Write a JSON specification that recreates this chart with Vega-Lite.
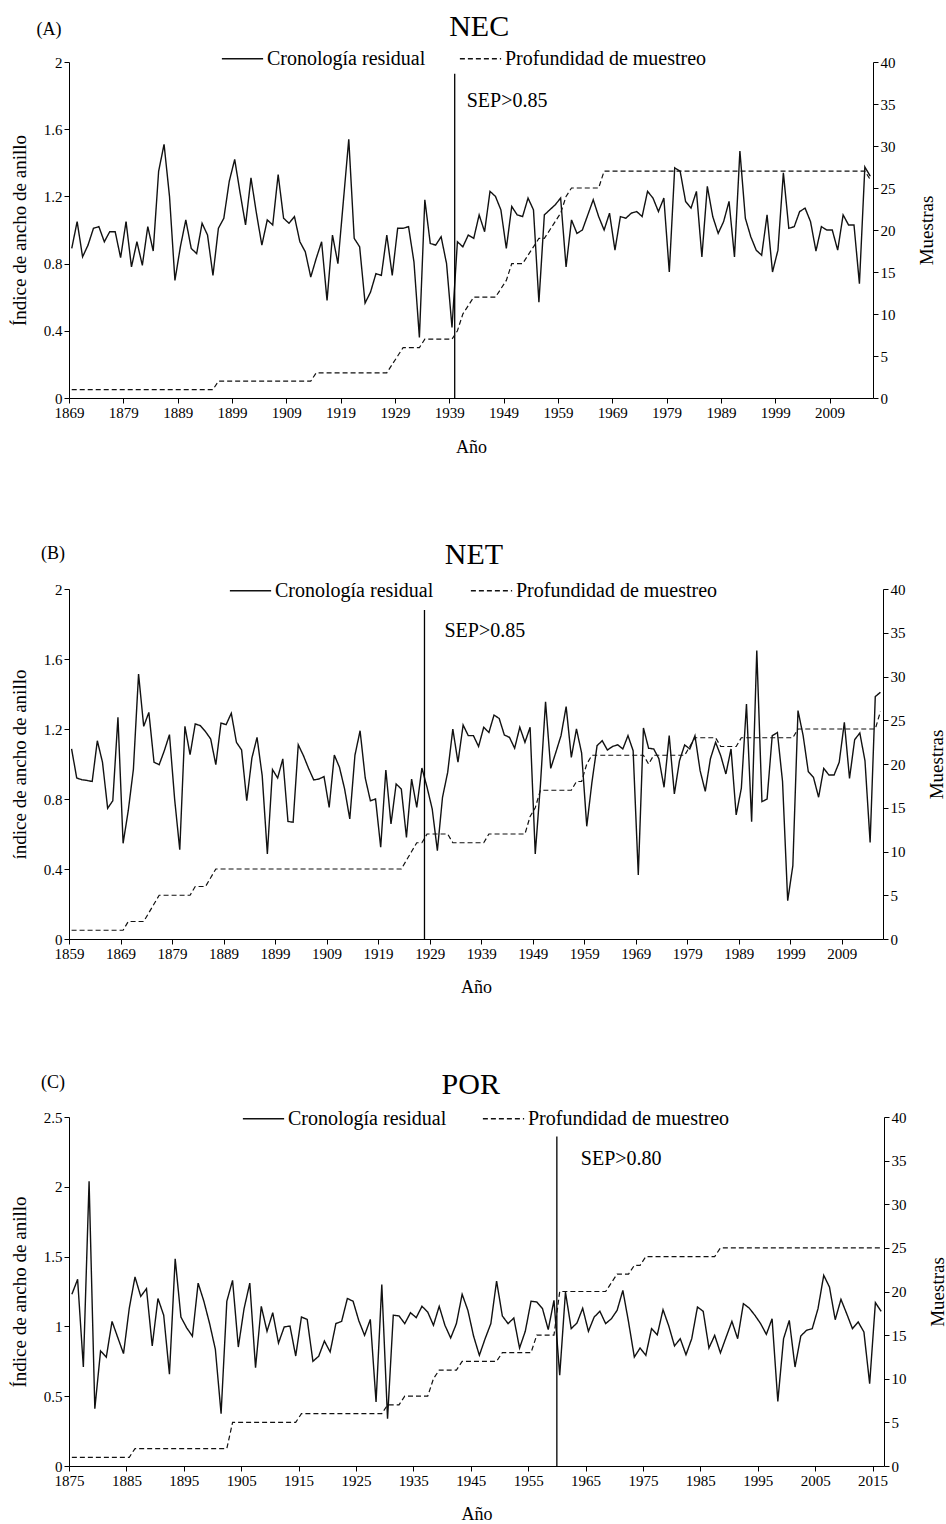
{
"$schema":"https://vega.github.io/schema/vega-lite/v6.json",
"background":"white",
"padding":{"left":10,"top":11,"right":5,"bottom":0},
"config":{
 "view":{"stroke":null},
 "font":"Liberation Serif",
 "axis":{"grid":false,"domainColor":"#000","tickColor":"#000","labelColor":"#000","titleColor":"#000","labelFont":"Liberation Serif","titleFont":"Liberation Serif","titleFontWeight":"normal","labelFontSize":15,"titleFontSize":18,"tickSize":5,"labelPadding":2,"labelFlush":false,"labelOverlap":false},
 "legend":{"labelLimit":0}
},
"datasets":{
"nec":[
{"year":1869,"ind":0.89,"n":1},{"year":1870,"ind":1.05,"n":1},{"year":1871,"ind":0.84,"n":1},{"year":1872,"ind":0.91,"n":1},{"year":1873,"ind":1.01,"n":1},{"year":1874,"ind":1.02,"n":1},{"year":1875,"ind":0.93,"n":1},{"year":1876,"ind":0.99,"n":1},{"year":1877,"ind":0.99,"n":1},{"year":1878,"ind":0.835,"n":1},
{"year":1879,"ind":1.05,"n":1},{"year":1880,"ind":0.78,"n":1},{"year":1881,"ind":0.93,"n":1},{"year":1882,"ind":0.79,"n":1},{"year":1883,"ind":1.02,"n":1},{"year":1884,"ind":0.875,"n":1},{"year":1885,"ind":1.35,"n":1},{"year":1886,"ind":1.51,"n":1},{"year":1887,"ind":1.2,"n":1},{"year":1888,"ind":0.7,"n":1},
{"year":1889,"ind":0.9,"n":1},{"year":1890,"ind":1.06,"n":1},{"year":1891,"ind":0.89,"n":1},{"year":1892,"ind":0.86,"n":1},{"year":1893,"ind":1.04,"n":1},{"year":1894,"ind":0.97,"n":1},{"year":1895,"ind":0.73,"n":1},{"year":1896,"ind":1.01,"n":2},{"year":1897,"ind":1.07,"n":2},{"year":1898,"ind":1.29,"n":2},
{"year":1899,"ind":1.42,"n":2},{"year":1900,"ind":1.22,"n":2},{"year":1901,"ind":1.03,"n":2},{"year":1902,"ind":1.31,"n":2},{"year":1903,"ind":1.1,"n":2},{"year":1904,"ind":0.91,"n":2},{"year":1905,"ind":1.06,"n":2},{"year":1906,"ind":1.03,"n":2},{"year":1907,"ind":1.33,"n":2},{"year":1908,"ind":1.07,"n":2},
{"year":1909,"ind":1.04,"n":2},{"year":1910,"ind":1.08,"n":2},{"year":1911,"ind":0.93,"n":2},{"year":1912,"ind":0.87,"n":2},{"year":1913,"ind":0.72,"n":2},{"year":1914,"ind":0.83,"n":3},{"year":1915,"ind":0.93,"n":3},{"year":1916,"ind":0.58,"n":3},{"year":1917,"ind":0.97,"n":3},{"year":1918,"ind":0.8,"n":3},
{"year":1919,"ind":1.17,"n":3},{"year":1920,"ind":1.54,"n":3},{"year":1921,"ind":0.95,"n":3},{"year":1922,"ind":0.9,"n":3},{"year":1923,"ind":0.565,"n":3},{"year":1924,"ind":0.63,"n":3},{"year":1925,"ind":0.74,"n":3},{"year":1926,"ind":0.73,"n":3},{"year":1927,"ind":0.97,"n":3},{"year":1928,"ind":0.73,"n":4},
{"year":1929,"ind":1.01,"n":5},{"year":1930,"ind":1.01,"n":6},{"year":1931,"ind":1.02,"n":6},{"year":1932,"ind":0.81,"n":6},{"year":1933,"ind":0.36,"n":6},{"year":1934,"ind":1.18,"n":7},{"year":1935,"ind":0.92,"n":7},{"year":1936,"ind":0.91,"n":7},{"year":1937,"ind":0.96,"n":7},{"year":1938,"ind":0.8,"n":7},
{"year":1939,"ind":0.42,"n":7},{"year":1940,"ind":0.93,"n":8},{"year":1941,"ind":0.9,"n":10},{"year":1942,"ind":0.97,"n":11},{"year":1943,"ind":0.95,"n":12},{"year":1944,"ind":1.09,"n":12},{"year":1945,"ind":0.99,"n":12},{"year":1946,"ind":1.23,"n":12},{"year":1947,"ind":1.2,"n":12},{"year":1948,"ind":1.12,"n":13},
{"year":1949,"ind":0.89,"n":14},{"year":1950,"ind":1.14,"n":16},{"year":1951,"ind":1.09,"n":16},{"year":1952,"ind":1.08,"n":16},{"year":1953,"ind":1.19,"n":17},{"year":1954,"ind":1.12,"n":18},{"year":1955,"ind":0.57,"n":19},{"year":1956,"ind":1.09,"n":19},{"year":1957,"ind":1.12,"n":20},{"year":1958,"ind":1.15,"n":21},
{"year":1959,"ind":1.19,"n":22},{"year":1960,"ind":0.78,"n":24},{"year":1961,"ind":1.06,"n":25},{"year":1962,"ind":0.98,"n":25},{"year":1963,"ind":1.0,"n":25},{"year":1964,"ind":1.09,"n":25},{"year":1965,"ind":1.18,"n":25},{"year":1966,"ind":1.08,"n":25},{"year":1967,"ind":1.0,"n":27},{"year":1968,"ind":1.1,"n":27},
{"year":1969,"ind":0.88,"n":27},{"year":1970,"ind":1.08,"n":27},{"year":1971,"ind":1.07,"n":27},{"year":1972,"ind":1.1,"n":27},{"year":1973,"ind":1.11,"n":27},{"year":1974,"ind":1.08,"n":27},{"year":1975,"ind":1.23,"n":27},{"year":1976,"ind":1.19,"n":27},{"year":1977,"ind":1.11,"n":27},{"year":1978,"ind":1.19,"n":27},
{"year":1979,"ind":0.75,"n":27},{"year":1980,"ind":1.37,"n":27},{"year":1981,"ind":1.35,"n":27},{"year":1982,"ind":1.17,"n":27},{"year":1983,"ind":1.13,"n":27},{"year":1984,"ind":1.23,"n":27},{"year":1985,"ind":0.84,"n":27},{"year":1986,"ind":1.26,"n":27},{"year":1987,"ind":1.08,"n":27},{"year":1988,"ind":0.98,"n":27},
{"year":1989,"ind":1.05,"n":27},{"year":1990,"ind":1.17,"n":27},{"year":1991,"ind":0.84,"n":27},{"year":1992,"ind":1.47,"n":27},{"year":1993,"ind":1.07,"n":27},{"year":1994,"ind":0.96,"n":27},{"year":1995,"ind":0.88,"n":27},{"year":1996,"ind":0.85,"n":27},{"year":1997,"ind":1.09,"n":27},{"year":1998,"ind":0.75,"n":27},
{"year":1999,"ind":0.88,"n":27},{"year":2000,"ind":1.34,"n":27},{"year":2001,"ind":1.01,"n":27},{"year":2002,"ind":1.02,"n":27},{"year":2003,"ind":1.11,"n":27},{"year":2004,"ind":1.13,"n":27},{"year":2005,"ind":1.05,"n":27},{"year":2006,"ind":0.875,"n":27},{"year":2007,"ind":1.02,"n":27},{"year":2008,"ind":1.0,"n":27},
{"year":2009,"ind":1.0,"n":27},{"year":2010,"ind":0.88,"n":27},{"year":2011,"ind":1.09,"n":27},{"year":2012,"ind":1.03,"n":27},{"year":2013,"ind":1.03,"n":27},{"year":2014,"ind":0.68,"n":27},{"year":2015,"ind":1.375,"n":27},{"year":2016,"ind":1.32,"n":26}
],
"net":[
{"year":1859,"ind":1.086,"n":1},{"year":1860,"ind":0.92,"n":1},{"year":1861,"ind":0.91,"n":1},{"year":1862,"ind":0.906,"n":1},{"year":1863,"ind":0.9,"n":1},{"year":1864,"ind":1.133,"n":1},{"year":1865,"ind":1.01,"n":1},{"year":1866,"ind":0.747,"n":1},{"year":1867,"ind":0.79,"n":1},{"year":1868,"ind":1.267,"n":1},
{"year":1869,"ind":0.547,"n":1},{"year":1870,"ind":0.733,"n":2},{"year":1871,"ind":0.97,"n":2},{"year":1872,"ind":1.514,"n":2},{"year":1873,"ind":1.215,"n":2},{"year":1874,"ind":1.295,"n":3},{"year":1875,"ind":1.01,"n":4},{"year":1876,"ind":0.996,"n":5},{"year":1877,"ind":1.076,"n":5},{"year":1878,"ind":1.168,"n":5},
{"year":1879,"ind":0.8,"n":5},{"year":1880,"ind":0.51,"n":5},{"year":1881,"ind":1.215,"n":5},{"year":1882,"ind":1.053,"n":5},{"year":1883,"ind":1.229,"n":6},{"year":1884,"ind":1.219,"n":6},{"year":1885,"ind":1.185,"n":6},{"year":1886,"ind":1.143,"n":7},{"year":1887,"ind":0.996,"n":8},{"year":1888,"ind":1.234,"n":8},
{"year":1889,"ind":1.225,"n":8},{"year":1890,"ind":1.29,"n":8},{"year":1891,"ind":1.124,"n":8},{"year":1892,"ind":1.08,"n":8},{"year":1893,"ind":0.79,"n":8},{"year":1894,"ind":1.034,"n":8},{"year":1895,"ind":1.152,"n":8},{"year":1896,"ind":0.933,"n":8},{"year":1897,"ind":0.486,"n":8},{"year":1898,"ind":0.968,"n":8},
{"year":1899,"ind":0.92,"n":8},{"year":1900,"ind":1.029,"n":8},{"year":1901,"ind":0.672,"n":8},{"year":1902,"ind":0.667,"n":8},{"year":1903,"ind":1.11,"n":8},{"year":1904,"ind":1.048,"n":8},{"year":1905,"ind":0.975,"n":8},{"year":1906,"ind":0.909,"n":8},{"year":1907,"ind":0.914,"n":8},{"year":1908,"ind":0.928,"n":8},
{"year":1909,"ind":0.752,"n":8},{"year":1910,"ind":1.051,"n":8},{"year":1911,"ind":0.981,"n":8},{"year":1912,"ind":0.857,"n":8},{"year":1913,"ind":0.686,"n":8},{"year":1914,"ind":1.05,"n":8},{"year":1915,"ind":1.19,"n":8},{"year":1916,"ind":0.92,"n":8},{"year":1917,"ind":0.79,"n":8},{"year":1918,"ind":0.8,"n":8},
{"year":1919,"ind":0.524,"n":8},{"year":1920,"ind":0.966,"n":8},{"year":1921,"ind":0.657,"n":8},{"year":1922,"ind":0.886,"n":8},{"year":1923,"ind":0.857,"n":8},{"year":1924,"ind":0.581,"n":9},{"year":1925,"ind":0.914,"n":10},{"year":1926,"ind":0.752,"n":11},{"year":1927,"ind":0.977,"n":11},{"year":1928,"ind":0.867,"n":12},
{"year":1929,"ind":0.743,"n":12},{"year":1930,"ind":0.505,"n":12},{"year":1931,"ind":0.81,"n":12},{"year":1932,"ind":0.952,"n":12},{"year":1933,"ind":1.2,"n":11},{"year":1934,"ind":1.01,"n":11},{"year":1935,"ind":1.223,"n":11},{"year":1936,"ind":1.162,"n":11},{"year":1937,"ind":1.162,"n":11},{"year":1938,"ind":1.1,"n":11},
{"year":1939,"ind":1.21,"n":11},{"year":1940,"ind":1.18,"n":12},{"year":1941,"ind":1.28,"n":12},{"year":1942,"ind":1.26,"n":12},{"year":1943,"ind":1.166,"n":12},{"year":1944,"ind":1.152,"n":12},{"year":1945,"ind":1.09,"n":12},{"year":1946,"ind":1.21,"n":12},{"year":1947,"ind":1.124,"n":12},{"year":1948,"ind":1.21,"n":14},
{"year":1949,"ind":0.486,"n":15},{"year":1950,"ind":0.88,"n":17},{"year":1951,"ind":1.356,"n":17},{"year":1952,"ind":0.975,"n":17},{"year":1953,"ind":1.067,"n":17},{"year":1954,"ind":1.162,"n":17},{"year":1955,"ind":1.328,"n":17},{"year":1956,"ind":1.038,"n":17},{"year":1957,"ind":1.2,"n":18},{"year":1958,"ind":1.063,"n":18},
{"year":1959,"ind":0.644,"n":20},{"year":1960,"ind":0.895,"n":21},{"year":1961,"ind":1.105,"n":21},{"year":1962,"ind":1.133,"n":21},{"year":1963,"ind":1.08,"n":21},{"year":1964,"ind":1.1,"n":21},{"year":1965,"ind":1.11,"n":21},{"year":1966,"ind":1.086,"n":21},{"year":1967,"ind":1.162,"n":21},{"year":1968,"ind":1.076,"n":21},
{"year":1969,"ind":0.366,"n":21},{"year":1970,"ind":1.206,"n":21},{"year":1971,"ind":1.09,"n":20},{"year":1972,"ind":1.086,"n":21},{"year":1973,"ind":1.03,"n":21},{"year":1974,"ind":0.867,"n":21},{"year":1975,"ind":1.162,"n":21},{"year":1976,"ind":0.829,"n":21},{"year":1977,"ind":1.019,"n":21},{"year":1978,"ind":1.109,"n":21},
{"year":1979,"ind":1.086,"n":22},{"year":1980,"ind":1.162,"n":23},{"year":1981,"ind":0.962,"n":23},{"year":1982,"ind":0.844,"n":23},{"year":1983,"ind":1.03,"n":23},{"year":1984,"ind":1.124,"n":23},{"year":1985,"ind":1.048,"n":22},{"year":1986,"ind":0.943,"n":22},{"year":1987,"ind":1.086,"n":22},{"year":1988,"ind":0.709,"n":22},
{"year":1989,"ind":0.861,"n":23},{"year":1990,"ind":1.343,"n":23},{"year":1991,"ind":0.67,"n":23},{"year":1992,"ind":1.648,"n":23},{"year":1993,"ind":0.785,"n":23},{"year":1994,"ind":0.8,"n":23},{"year":1995,"ind":1.162,"n":23},{"year":1996,"ind":1.18,"n":23},{"year":1997,"ind":0.9,"n":23},{"year":1998,"ind":0.219,"n":23},
{"year":1999,"ind":0.419,"n":23},{"year":2000,"ind":1.305,"n":24},{"year":2001,"ind":1.162,"n":24},{"year":2002,"ind":0.956,"n":24},{"year":2003,"ind":0.924,"n":24},{"year":2004,"ind":0.81,"n":24},{"year":2005,"ind":0.975,"n":24},{"year":2006,"ind":0.937,"n":24},{"year":2007,"ind":0.937,"n":24},{"year":2008,"ind":1.01,"n":24},
{"year":2009,"ind":1.238,"n":24},{"year":2010,"ind":0.918,"n":24},{"year":2011,"ind":1.139,"n":24},{"year":2012,"ind":1.177,"n":24},{"year":2013,"ind":1.019,"n":24},{"year":2014,"ind":0.552,"n":24},{"year":2015,"ind":1.385,"n":24},{"year":2016,"ind":1.41,"n":26}
],
"por":[
{"year":1875,"ind":1.23,"n":1},{"year":1876,"ind":1.337,"n":1},{"year":1877,"ind":0.709,"n":1},{"year":1878,"ind":2.04,"n":1},{"year":1879,"ind":0.41,"n":1},{"year":1880,"ind":0.824,"n":1},{"year":1881,"ind":0.78,"n":1},{"year":1882,"ind":1.036,"n":1},{"year":1883,"ind":0.92,"n":1},{"year":1884,"ind":0.805,"n":1},
{"year":1885,"ind":1.13,"n":1},{"year":1886,"ind":1.354,"n":2},{"year":1887,"ind":1.215,"n":2},{"year":1888,"ind":1.27,"n":2},{"year":1889,"ind":0.86,"n":2},{"year":1890,"ind":1.2,"n":2},{"year":1891,"ind":1.08,"n":2},{"year":1892,"ind":0.657,"n":2},{"year":1893,"ind":1.485,"n":2},{"year":1894,"ind":1.067,"n":2},
{"year":1895,"ind":0.99,"n":2},{"year":1896,"ind":0.93,"n":2},{"year":1897,"ind":1.31,"n":2},{"year":1898,"ind":1.18,"n":2},{"year":1899,"ind":1.02,"n":2},{"year":1900,"ind":0.836,"n":2},{"year":1901,"ind":0.375,"n":2},{"year":1902,"ind":1.18,"n":2},{"year":1903,"ind":1.33,"n":5},{"year":1904,"ind":0.852,"n":5},
{"year":1905,"ind":1.127,"n":5},{"year":1906,"ind":1.31,"n":5},{"year":1907,"ind":0.704,"n":5},{"year":1908,"ind":1.144,"n":5},{"year":1909,"ind":0.965,"n":5},{"year":1910,"ind":1.098,"n":5},{"year":1911,"ind":0.881,"n":5},{"year":1912,"ind":0.996,"n":5},{"year":1913,"ind":1.003,"n":5},{"year":1914,"ind":0.788,"n":5},
{"year":1915,"ind":1.067,"n":6},{"year":1916,"ind":1.05,"n":6},{"year":1917,"ind":0.75,"n":6},{"year":1918,"ind":0.786,"n":6},{"year":1919,"ind":0.895,"n":6},{"year":1920,"ind":0.817,"n":6},{"year":1921,"ind":1.02,"n":6},{"year":1922,"ind":1.036,"n":6},{"year":1923,"ind":1.2,"n":6},{"year":1924,"ind":1.18,"n":6},
{"year":1925,"ind":1.04,"n":6},{"year":1926,"ind":0.936,"n":6},{"year":1927,"ind":1.05,"n":6},{"year":1928,"ind":0.458,"n":6},{"year":1929,"ind":1.3,"n":6},{"year":1930,"ind":0.339,"n":7},{"year":1931,"ind":1.08,"n":7},{"year":1932,"ind":1.075,"n":7},{"year":1933,"ind":1.02,"n":8},{"year":1934,"ind":1.098,"n":8},
{"year":1935,"ind":1.063,"n":8},{"year":1936,"ind":1.144,"n":8},{"year":1937,"ind":1.103,"n":8},{"year":1938,"ind":1.008,"n":10},{"year":1939,"ind":1.144,"n":11},{"year":1940,"ind":1.008,"n":11},{"year":1941,"ind":0.917,"n":11},{"year":1942,"ind":1.02,"n":11},{"year":1943,"ind":1.23,"n":12},{"year":1944,"ind":1.115,"n":12},
{"year":1945,"ind":0.929,"n":12},{"year":1946,"ind":0.793,"n":12},{"year":1947,"ind":0.912,"n":12},{"year":1948,"ind":1.02,"n":12},{"year":1949,"ind":1.325,"n":12},{"year":1950,"ind":1.075,"n":13},{"year":1951,"ind":1.02,"n":13},{"year":1952,"ind":1.06,"n":13},{"year":1953,"ind":0.845,"n":13},{"year":1954,"ind":0.965,"n":13},
{"year":1955,"ind":1.18,"n":13},{"year":1956,"ind":1.175,"n":15},{"year":1957,"ind":1.127,"n":15},{"year":1958,"ind":0.977,"n":15},{"year":1959,"ind":1.187,"n":15},{"year":1960,"ind":0.65,"n":20},{"year":1961,"ind":1.246,"n":20},{"year":1962,"ind":0.984,"n":20},{"year":1963,"ind":1.024,"n":20},{"year":1964,"ind":1.13,"n":20},
{"year":1965,"ind":0.965,"n":20},{"year":1966,"ind":1.067,"n":20},{"year":1967,"ind":1.108,"n":20},{"year":1968,"ind":1.02,"n":20},{"year":1969,"ind":1.055,"n":21},{"year":1970,"ind":1.115,"n":22},{"year":1971,"ind":1.258,"n":22},{"year":1972,"ind":1.03,"n":22},{"year":1973,"ind":0.78,"n":23},{"year":1974,"ind":0.845,"n":23},
{"year":1975,"ind":0.793,"n":24},{"year":1976,"ind":0.984,"n":24},{"year":1977,"ind":0.94,"n":24},{"year":1978,"ind":1.12,"n":24},{"year":1979,"ind":1.003,"n":24},{"year":1980,"ind":0.86,"n":24},{"year":1981,"ind":0.912,"n":24},{"year":1982,"ind":0.797,"n":24},{"year":1983,"ind":0.912,"n":24},{"year":1984,"ind":1.139,"n":24},
{"year":1985,"ind":1.108,"n":24},{"year":1986,"ind":0.845,"n":24},{"year":1987,"ind":0.936,"n":24},{"year":1988,"ind":0.81,"n":25},{"year":1989,"ind":0.924,"n":25},{"year":1990,"ind":1.036,"n":25},{"year":1991,"ind":0.912,"n":25},{"year":1992,"ind":1.163,"n":25},{"year":1993,"ind":1.132,"n":25},{"year":1994,"ind":1.08,"n":25},
{"year":1995,"ind":1.02,"n":25},{"year":1996,"ind":0.943,"n":25},{"year":1997,"ind":1.055,"n":25},{"year":1998,"ind":0.463,"n":25},{"year":1999,"ind":0.912,"n":25},{"year":2000,"ind":1.043,"n":25},{"year":2001,"ind":0.709,"n":25},{"year":2002,"ind":0.931,"n":25},{"year":2003,"ind":0.972,"n":25},{"year":2004,"ind":0.984,"n":25},
{"year":2005,"ind":1.127,"n":25},{"year":2006,"ind":1.366,"n":25},{"year":2007,"ind":1.282,"n":25},{"year":2008,"ind":1.048,"n":25},{"year":2009,"ind":1.194,"n":25},{"year":2010,"ind":1.091,"n":25},{"year":2011,"ind":0.984,"n":25},{"year":2012,"ind":1.032,"n":25},{"year":2013,"ind":0.96,"n":25},{"year":2014,"ind":0.59,"n":25},
{"year":2015,"ind":1.17,"n":25},{"year":2016,"ind":1.108,"n":25}
],
"one":[{"k":1}]
},
"bounds":"flush",
"spacing":191,
"resolve":{"scale":{"x":"independent","y":"independent","strokeDash":"independent"},"legend":{"strokeDash":"independent"}},
"vconcat":[
{
 "width":804,"height":336,
 "layer":[
  {"layer":[
   {"data":{"name":"nec"},"mark":{"type":"line","stroke":"#111","strokeWidth":1.4,"xOffset":2.72},
    "encoding":{"x":{"field":"year","type":"quantitative","scale":{"domain":[1869,2017],"nice":false,"zero":false},"axis":{"values":[1869,1879,1889,1899,1909,1919,1929,1939,1949,1959,1969,1979,1989,1999,2009],"format":"d","title":"Año","titlePadding":18}},
     "y":{"field":"ind","type":"quantitative","scale":{"domain":[0,2],"nice":false},"axis":{"orient":"left","values":[0,0.4,0.8,1.2,1.6,2],"format":"~g","title":"Índice de ancho de anillo","titleFontSize":19,"titlePadding":14}},
     "strokeDash":{"datum":"Cronología residual","type":"nominal","scale":{"domain":["Cronología residual","Profundidad de muestreo"],"range":[[1,0],[5,3]]},"legend":{"title":null,"orient":"none","legendX":152,"legendY":-25,"direction":"horizontal","symbolType":"stroke","symbolSize":1700,"symbolStrokeWidth":1.4,"symbolStrokeColor":"#111","labelFont":"Liberation Serif","labelFontSize":20,"labelColor":"#000","labelOffset":3,"columnPadding":31,"labelLimit":0}}}},
   {"data":{"name":"one"},"mark":{"type":"rule","stroke":"#000","strokeWidth":1.3},"encoding":{"x":{"datum":1940,"type":"quantitative"},"y":{"datum":0,"type":"quantitative"},"y2":{"datum":1.93}}},
   {"data":{"name":"one"},"mark":{"type":"text","align":"left","baseline":"middle","dx":12,"fontSize":20,"font":"Liberation Serif","fill":"#000"},"encoding":{"x":{"datum":1940,"type":"quantitative"},"y":{"datum":1.77,"type":"quantitative"},"text":{"value":"SEP>0.85"}}},
   {"data":{"name":"one"},"mark":{"type":"text","align":"center","baseline":"alphabetic","fontSize":30,"font":"Liberation Serif","fill":"#000"},"encoding":{"x":{"datum":1944.5,"type":"quantitative"},"y":{"datum":2.157,"type":"quantitative"},"text":{"value":"NEC"}}},
   {"data":{"name":"one"},"mark":{"type":"text","align":"center","baseline":"alphabetic","fontSize":18,"font":"Liberation Serif","fill":"#000"},"encoding":{"x":{"datum":1865.3,"type":"quantitative"},"y":{"datum":2.16,"type":"quantitative"},"text":{"value":"(A)"}}}
  ]},
  {"data":{"name":"nec"},"mark":{"type":"line","stroke":"#111","strokeWidth":1.2,"xOffset":2.72},
   "encoding":{"x":{"field":"year","type":"quantitative"},
    "y":{"field":"n","type":"quantitative","scale":{"domain":[0,40],"nice":false},"axis":{"orient":"right","values":[0,5,10,15,20,25,30,35,40],"title":"Muestras","titleFontSize":19,"titleAngle":270,"titleBaseline":"top","titlePadding":22}},
    "strokeDash":{"datum":"Profundidad de muestreo","type":"nominal"}}}
 ],
 "resolve":{"scale":{"y":"independent"}}
},
{
 "bounds":"flush",
 "spacing":178,
 "resolve":{"scale":{"x":"independent","y":"independent","strokeDash":"independent"},"legend":{"strokeDash":"independent"}},
 "vconcat":[
{
 "width":814,"height":350,
 "layer":[
  {"layer":[
   {"data":{"name":"net"},"mark":{"type":"line","stroke":"#111","strokeWidth":1.4,"xOffset":2.58},
    "encoding":{"x":{"field":"year","type":"quantitative","scale":{"domain":[1859,2017],"nice":false,"zero":false},"axis":{"values":[1859,1869,1879,1889,1899,1909,1919,1929,1939,1949,1959,1969,1979,1989,1999,2009],"format":"d","title":"Año","titlePadding":17}},
     "y":{"field":"ind","type":"quantitative","scale":{"domain":[0,2],"nice":false},"axis":{"orient":"left","values":[0,0.4,0.8,1.2,1.6,2],"format":"~g","title":"índice de ancho de anillo","titleFontSize":19,"titlePadding":14}},
     "strokeDash":{"datum":"Cronología residual","type":"nominal","scale":{"domain":["Cronología residual","Profundidad de muestreo"],"range":[[1,0],[5,3]]},"legend":{"title":null,"orient":"none","legendX":160,"legendY":-20,"direction":"horizontal","symbolType":"stroke","symbolSize":1700,"symbolStrokeWidth":1.4,"symbolStrokeColor":"#111","labelFont":"Liberation Serif","labelFontSize":20,"labelColor":"#000","labelOffset":3,"columnPadding":34,"labelLimit":0}}}},
   {"data":{"name":"one"},"mark":{"type":"rule","stroke":"#000","strokeWidth":1.3},"encoding":{"x":{"datum":1928,"type":"quantitative"},"y":{"datum":0,"type":"quantitative"},"y2":{"datum":1.88}}},
   {"data":{"name":"one"},"mark":{"type":"text","align":"left","baseline":"middle","dx":20,"fontSize":20,"font":"Liberation Serif","fill":"#000"},"encoding":{"x":{"datum":1928,"type":"quantitative"},"y":{"datum":1.76,"type":"quantitative"},"text":{"value":"SEP>0.85"}}},
   {"data":{"name":"one"},"mark":{"type":"text","align":"center","baseline":"alphabetic","fontSize":30,"font":"Liberation Serif","fill":"#000"},"encoding":{"x":{"datum":1937.6,"type":"quantitative"},"y":{"datum":2.143,"type":"quantitative"},"text":{"value":"NET"}}},
   {"data":{"name":"one"},"mark":{"type":"text","align":"center","baseline":"alphabetic","fontSize":18,"font":"Liberation Serif","fill":"#000"},"encoding":{"x":{"datum":1855.9,"type":"quantitative"},"y":{"datum":2.17,"type":"quantitative"},"text":{"value":"(B)"}}}
  ]},
  {"data":{"name":"net"},"mark":{"type":"line","stroke":"#111","strokeWidth":1.2,"xOffset":2.58},
   "encoding":{"x":{"field":"year","type":"quantitative"},
    "y":{"field":"n","type":"quantitative","scale":{"domain":[0,40],"nice":false},"axis":{"orient":"right","values":[0,5,10,15,20,25,30,35,40],"title":"Muestras","titleFontSize":19,"titleAngle":270,"titleBaseline":"top","titlePadding":22}},
    "strokeDash":{"datum":"Profundidad de muestreo","type":"nominal"}}}
 ],
 "resolve":{"scale":{"y":"independent"}}
},
{
 "width":815,"height":349,
 "layer":[
  {"layer":[
   {"data":{"name":"por"},"mark":{"type":"line","stroke":"#111","strokeWidth":1.4,"xOffset":2.87},
    "encoding":{"x":{"field":"year","type":"quantitative","scale":{"domain":[1875,2017],"nice":false,"zero":false},"axis":{"values":[1875,1885,1895,1905,1915,1925,1935,1945,1955,1965,1975,1985,1995,2005,2015],"format":"d","title":"Año","titlePadding":17}},
     "y":{"field":"ind","type":"quantitative","scale":{"domain":[0,2.5],"nice":false},"axis":{"orient":"left","values":[0,0.5,1,1.5,2,2.5],"format":"~g","title":"Índice de ancho de anillo","titleFontSize":19,"titlePadding":14}},
     "strokeDash":{"datum":"Cronología residual","type":"nominal","scale":{"domain":["Cronología residual","Profundidad de muestreo"],"range":[[1,0],[5,3]]},"legend":{"title":null,"orient":"none","legendX":173,"legendY":-20,"direction":"horizontal","symbolType":"stroke","symbolSize":1700,"symbolStrokeWidth":1.4,"symbolStrokeColor":"#111","labelFont":"Liberation Serif","labelFontSize":20,"labelColor":"#000","labelOffset":3,"columnPadding":33,"labelLimit":0}}}},
   {"data":{"name":"one"},"mark":{"type":"rule","stroke":"#000","strokeWidth":1.3},"encoding":{"x":{"datum":1960,"type":"quantitative"},"y":{"datum":0,"type":"quantitative"},"y2":{"datum":2.36}}},
   {"data":{"name":"one"},"mark":{"type":"text","align":"left","baseline":"middle","dx":24,"fontSize":20,"font":"Liberation Serif","fill":"#000"},"encoding":{"x":{"datum":1960,"type":"quantitative"},"y":{"datum":2.2,"type":"quantitative"},"text":{"value":"SEP>0.80"}}},
   {"data":{"name":"one"},"mark":{"type":"text","align":"center","baseline":"alphabetic","fontSize":30,"font":"Liberation Serif","fill":"#000"},"encoding":{"x":{"datum":1945,"type":"quantitative"},"y":{"datum":2.667,"type":"quantitative"},"text":{"value":"POR"}}},
   {"data":{"name":"one"},"mark":{"type":"text","align":"center","baseline":"alphabetic","fontSize":18,"font":"Liberation Serif","fill":"#000"},"encoding":{"x":{"datum":1872.2,"type":"quantitative"},"y":{"datum":2.71,"type":"quantitative"},"text":{"value":"(C)"}}}
  ]},
  {"data":{"name":"por"},"mark":{"type":"line","stroke":"#111","strokeWidth":1.2,"xOffset":2.87},
   "encoding":{"x":{"field":"year","type":"quantitative"},
    "y":{"field":"n","type":"quantitative","scale":{"domain":[0,40],"nice":false},"axis":{"orient":"right","values":[0,5,10,15,20,25,30,35,40],"title":"Muestras","titleFontSize":19,"titleAngle":270,"titleBaseline":"top","titlePadding":22}},
    "strokeDash":{"datum":"Profundidad de muestreo","type":"nominal"}}}
 ],
 "resolve":{"scale":{"y":"independent"}}
}
 ]
}
]
}
